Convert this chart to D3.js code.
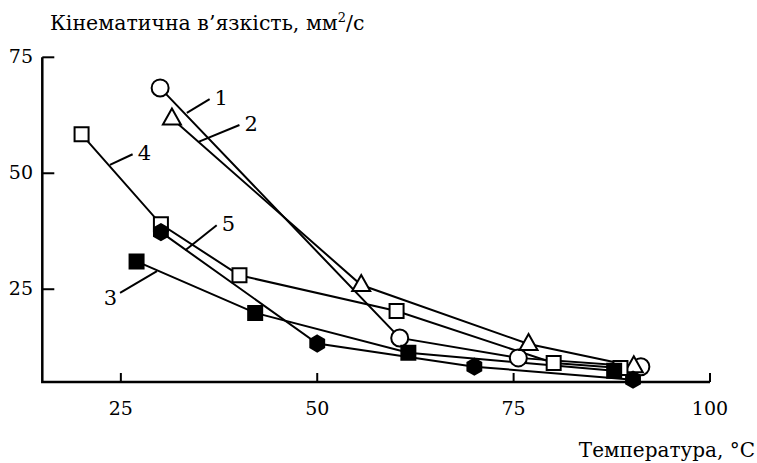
<!DOCTYPE html>
<html>
<head>
<meta charset="utf-8">
<script src="https://cdn.jsdelivr.net/npm/d3@7"></script>
<style>
  body { margin: 0; background: #fff; }
  svg { display: block; }
</style>
</head>
<body>
<svg id="chart" width="757" height="463" font-family="DejaVu Serif"></svg>
<script>
// series data: [temperature, viscosity]
const s1 = [[30, 68.4], [60.5, 14.5], [75.6, 10.2], [91.2, 8.3]];
const s2 = [[31.5, 61.8], [55.6, 25.9], [76.9, 13.2], [90.3, 8.4]];
const s3 = [[27, 31.0], [42.1, 19.9], [61.6, 11.3], [87.8, 7.4]];
const s4 = [[20, 58.4], [30.1, 39.0], [40.1, 28.0], [60.1, 20.3], [80.1, 9.1], [88.6, 8.0]];
const s5 = [[30.1, 37.3], [50, 13.3], [70, 8.3], [90.2, 5.5]];

const xTicks = [25, 50, 75, 100];
const yTicks = [25, 50, 75];

// curve labels: leader line from (x1,y1) to (x2,y2) in data units
const labels = [
  { name: "1", x1: 33.4, y1: 63.0, x2: 36.3, y2: 66.0 },
  { name: "2", x1: 34.8, y1: 56.7, x2: 40.1, y2: 60.4 },
  { name: "3", x1: 29.6, y1: 28.9, x2: 24.9, y2: 24.2 },
  { name: "4", x1: 23.6, y1: 51.8, x2: 26.5, y2: 54.1 },
  { name: "5", x1: 33.2, y1: 33.4, x2: 37.2, y2: 38.8 }
];

const svg = d3.select("#chart");

const x = d3.scaleLinear().domain([15, 100]).range([42.3, 710]);
const y = d3.scaleLinear().domain([5, 75]).range([382, 57.3]);

// axes
const axisG = svg.append("g");
axisG.append("path")
  .attr("d", `M${x(15)},${y(75)}V${y(5)}H${x(100)}`)
  .attr("fill", "none").attr("stroke", "#000").attr("stroke-width", 2.5);

axisG.selectAll(".xt").data(xTicks).join("line")
  .attr("x1", d => x(d)).attr("x2", d => x(d))
  .attr("y1", y(5)).attr("y2", y(5) - 9)
  .attr("stroke", "#000").attr("stroke-width", 2);
axisG.selectAll(".xl").data(xTicks).join("text")
  .attr("x", d => x(d)).attr("y", 415)
  .attr("text-anchor", "middle").attr("font-size", 19)
  .text(d => d);

axisG.selectAll(".yt").data(yTicks).join("line")
  .attr("x1", x(15)).attr("x2", x(15) + 12)
  .attr("y1", d => y(d)).attr("y2", d => y(d))
  .attr("stroke", "#000").attr("stroke-width", 2);
axisG.selectAll(".yl").data(yTicks).join("text")
  .attr("x", 33).attr("y", d => y(d) + 6)
  .attr("text-anchor", "end").attr("font-size", 19)
  .text(d => d);

// axis titles
const yt = svg.append("text").attr("x", 50).attr("y", 30).attr("font-size", 20.5);
yt.append("tspan").text("Кінематична в’язкість, мм");
yt.append("tspan").attr("font-size", 13).attr("dy", -8).text("2");
yt.append("tspan").attr("dy", 8).text("/с");

svg.append("text").attr("x", 755).attr("y", 457)
  .attr("text-anchor", "end").attr("font-size", 20)
  .text("Температура, °С");

// lines
const line = d3.line().x(d => x(d[0])).y(d => y(d[1]));
const series = [
  { data: s1, shape: "circle", fill: "#fff" },
  { data: s2, shape: "triangle", fill: "#fff" },
  { data: s4, shape: "square", fill: "#fff" },
  { data: s3, shape: "square", fill: "#000" },
  { data: s5, shape: "hexagon", fill: "#000" }
];

svg.append("g").selectAll("path").data(series).join("path")
  .attr("d", d => line(d.data))
  .attr("fill", "none").attr("stroke", "#000").attr("stroke-width", 2);

// leader lines and labels
const lg = svg.append("g");
lg.selectAll("line").data(labels).join("line")
  .attr("x1", d => x(d.x1)).attr("y1", d => y(d.y1))
  .attr("x2", d => x(d.x2)).attr("y2", d => y(d.y2))
  .attr("stroke", "#000").attr("stroke-width", 2);
lg.selectAll("text").data(labels).join("text")
  .attr("x", d => d.name === "3" ? x(d.x2) - 3 : x(d.x2) + 5)
  .attr("y", d => d.name === "3" ? y(d.y2) + 12 : y(d.y2) + 6)
  .attr("text-anchor", d => d.name === "3" ? "end" : "start")
  .attr("font-size", 21)
  .text(d => d.name);

// markers
function shapePath(shape) {
  if (shape === "circle") return "M-8.5,0A8.5,8.5 0 1,0 8.5,0A8.5,8.5 0 1,0 -8.5,0Z";
  if (shape === "square") return "M-7,-7H7V7H-7Z";
  if (shape === "triangle") return "M0,-10L9,6H-9Z";
  // pointy-top hexagon
  const r = 8;
  return d3.range(6).map(i => {
    const a = Math.PI / 3 * i - Math.PI / 2;
    return (i ? "L" : "M") + (r * Math.cos(a)).toFixed(2) + "," + (r * Math.sin(a)).toFixed(2);
  }).join("") + "Z";
}

series.forEach(s => {
  svg.append("g").selectAll("path").data(s.data).join("path")
    .attr("transform", d => `translate(${x(d[0])},${y(d[1])})`)
    .attr("d", shapePath(s.shape))
    .attr("fill", s.fill).attr("stroke", "#000").attr("stroke-width", 2);
});
</script>
</body>
</html>
